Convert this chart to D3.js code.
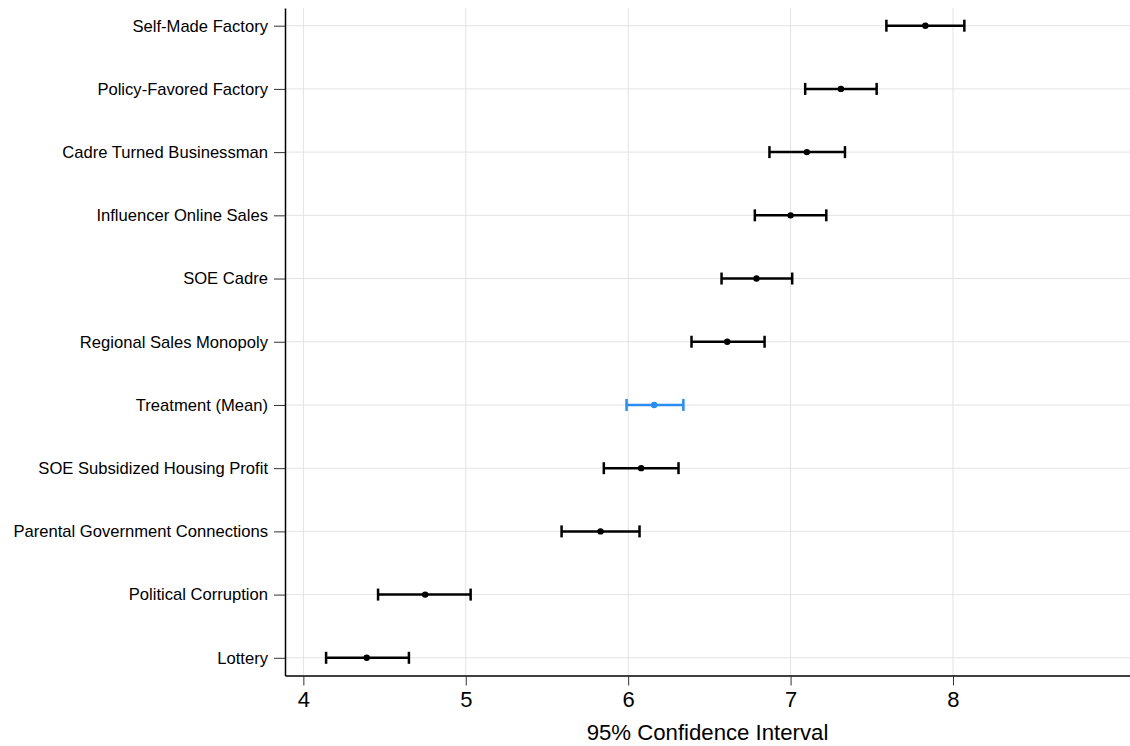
<html>
<head>
  <script src="https://d3js.org/d3.v7.min.js"></script>
  <style>
    body { margin: 0; background: #fff; }
    text { font-family: "Liberation Sans", Arial, Helvetica, sans-serif; }
  </style>
</head>
<body>
<script>
var categories = ["Self-Made Factory", "Policy-Favored Factory", "Cadre Turned Businessman",
  "Influencer Online Sales", "SOE Cadre", "Regional Sales Monopoly", "Treatment (Mean)",
  "SOE Subsidized Housing Profit", "Parental Government Connections", "Political Corruption", "Lottery"];
var estimates = [7.83, 7.31, 7.10, 7.00, 6.79, 6.61, 6.16, 6.08, 5.83, 4.75, 4.39];
var lower     = [7.59, 7.09, 6.87, 6.78, 6.575, 6.39, 5.99, 5.85, 5.59, 4.46, 4.14];
var upper     = [8.07, 7.53, 7.335, 7.22, 7.01, 6.84, 6.34, 6.31, 6.07, 5.03, 4.65];
var xTicks = [4, 5, 6, 7, 8];
var highlight = "Treatment (Mean)";

var width = 1130, height = 746;
var plotLeft = 285, plotTop = 8, plotBottom = 675.5, plotRight = 1130;

var svg = d3.select("body").append("svg")
    .attr("width", width)
    .attr("height", height);

var x = d3.scaleLinear()
    .domain([3.887, 9.09])
    .range([plotLeft, plotRight]);

var y = d3.scalePoint()
    .domain(categories)
    .range([plotTop, plotBottom])
    .padding(0.28);

// grid
var grid = svg.append("g");
grid.selectAll(".vgrid")
  .data(xTicks)
  .enter().append("line")
    .attr("x1", d => x(d)).attr("x2", d => x(d))
    .attr("y1", plotTop).attr("y2", plotBottom)
    .attr("stroke", "#e3e3e3").attr("stroke-width", 1);
grid.selectAll(".hgrid")
  .data(categories)
  .enter().append("line")
    .attr("x1", plotLeft).attr("x2", plotRight)
    .attr("y1", d => y(d)).attr("y2", d => y(d))
    .attr("stroke", "#e3e3e3").attr("stroke-width", 1);

// axes
var xAxis = svg.append("g")
    .attr("transform", "translate(0," + plotBottom + ")")
    .call(d3.axisBottom(x).tickValues(xTicks).tickFormat(d3.format("d"))
      .tickSize(10).tickPadding(6).tickSizeOuter(0));
xAxis.select(".domain").attr("stroke", "#000").attr("stroke-width", 1.5);
xAxis.selectAll(".tick line").attr("stroke", "#333").attr("stroke-width", 1);
xAxis.selectAll("text").attr("font-size", 22).attr("fill", "#000");

var yAxis = svg.append("g")
    .attr("transform", "translate(" + plotLeft + ",0)")
    .call(d3.axisLeft(y).tickSize(11).tickPadding(6).tickSizeOuter(0));
yAxis.select(".domain").attr("stroke", "#000").attr("stroke-width", 1.5);
yAxis.selectAll(".tick line").attr("stroke", "#333").attr("stroke-width", 1);
yAxis.selectAll("text").attr("font-size", 16.6).attr("fill", "#000");

svg.append("text")
    .attr("x", (plotLeft + plotRight) / 2)
    .attr("y", 740)
    .attr("text-anchor", "middle")
    .attr("font-size", 22.2)
    .text("95% Confidence Interval");

// error bars
var rows = categories.map((c, i) => ({ name: c, est: estimates[i], lo: lower[i], hi: upper[i] }));
var color = d => d.name === highlight ? "#2b8cf4" : "#000";

var bars = svg.append("g").selectAll("g")
  .data(rows)
  .enter().append("g");

bars.append("line")
    .attr("x1", d => x(d.lo)).attr("x2", d => x(d.hi))
    .attr("y1", d => y(d.name)).attr("y2", d => y(d.name))
    .attr("stroke", color).attr("stroke-width", 2.5);
bars.append("line")
    .attr("x1", d => x(d.lo)).attr("x2", d => x(d.lo))
    .attr("y1", d => y(d.name) - 6).attr("y2", d => y(d.name) + 6)
    .attr("stroke", color).attr("stroke-width", 2.5);
bars.append("line")
    .attr("x1", d => x(d.hi)).attr("x2", d => x(d.hi))
    .attr("y1", d => y(d.name) - 6).attr("y2", d => y(d.name) + 6)
    .attr("stroke", color).attr("stroke-width", 2.5);
bars.append("circle")
    .attr("cx", d => x(d.est)).attr("cy", d => y(d.name))
    .attr("r", 3.2)
    .attr("fill", color);
</script>
</body>
</html>
